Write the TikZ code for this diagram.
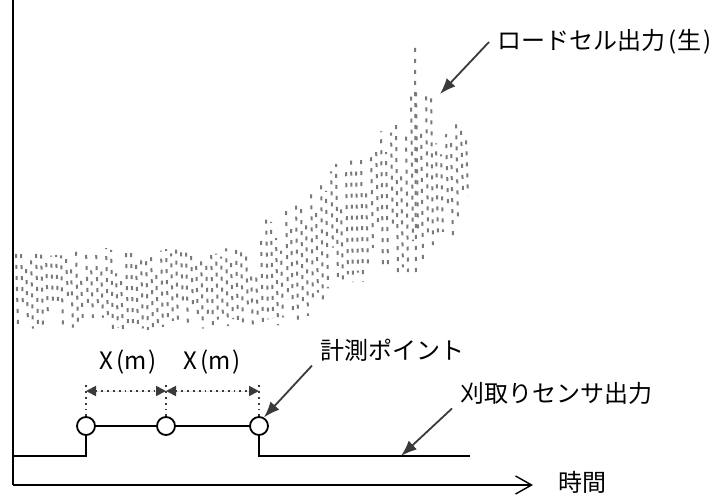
\documentclass[tikz,border=0pt]{standalone}
\usepackage{fontspec}
\newfontfamily\jpfont{Noto Sans CJK JP}
\usetikzlibrary{arrows.meta}
\definecolor{siggray}{HTML}{7A7A7A}
\definecolor{arrgray}{HTML}{3A3A3A}

\begin{document}
\begin{tikzpicture}[x=0.5pt,y=-0.5pt,
	declare function={
		sigtop(\x)=(\x<255) ? 248 : ((\x<265) ? 248-(\x-255)*3.6 : ((\x<380) ? 212-(\x-265)*0.713 : ((\x<405) ? 130-(\x-380)*0.4 : ((\x<415) ? 120-(\x-405)*7.2 : ((\x<440) ? 48+(\x-415)*2.68 : 115+(\x-440)*0.33)))));
		sigbot(\x)=(\x<255) ? 330 : ((\x<300) ? 330-(\x-255)*0.22 : ((\x<380) ? 320-(\x-300)*0.625 : ((\x<420) ? 275 : ((\x<440) ? 275-(\x-420) : 255-(\x-440)*1.5))));
	}]
  \tikzset{pt/.style = {shape=circle,draw,fill=white,line width=0.9pt,minimum size=9pt,inner sep=0pt}}
  \tikzset{lbl/.style = {font=\jpfont\fontsize{12}{14}\selectfont,inner xsep=4pt,inner ysep=2pt}}
  \tikzset{callout/.style = {-{Latex[length=8pt,width=6pt]},draw=arrgray,line width=0.9pt}}
  \tikzset{dim/.style = {{Triangle[length=5pt,width=5pt]}-{Triangle[length=5pt,width=5pt]},draw=arrgray,fill=arrgray,dotted,line width=0.9pt}}
  \tikzset{signal/.style = {draw=siggray,line width=1pt,dash pattern=on 2pt off 3.5pt}}
  \tikzset{sensor/.style = {line width=0.9pt}}

	\useasboundingbox (0,0) rectangle (722,497);

	% raw load cell output
	\pgfmathsetseed{7}
	\foreach \x in {16,21,...,470} {
		\pgfmathsetmacro\h{sigbot(\x)-sigtop(\x)}
		\pgfmathsetmacro\t{sigtop(\x)+rnd*rnd*\h*0.5}
		\pgfmathsetmacro\b{sigbot(\x)-rnd*rnd*\h*0.45}
		\draw[signal,dash phase=\x] (\x,\t) -- (\x+2,\b);
	}
	\draw[signal] (415,48) -- (416,275);

	% axes
	\coordinate (O) at (13,485);
	\coordinate (Y) at (13,0);
	\coordinate (X) at (533,485);
	\draw[line width=0.9pt] (Y) -- (O);
	\draw[line width=0.9pt,-{Straight Barb[length=8pt,width=9pt,line width=0.7pt]}] (O) -- (X);
	\node[lbl,anchor=west] (T) at (550,482) {時間};

	% sensor output
	\node[pt] (M1) at (86,426) {};
	\node[pt] (M2) at (166,426) {};
	\node[pt] (M3) at (259,426) {};
	\coordinate (S0) at (13,456);
	\coordinate (S1) at (470,456);
	\draw[sensor] (S0) -| (M1.south);
	\draw[sensor] (M3.south) |- (S1);
	\foreach \from/\to in {M1/M2, M2/M3}
		\draw[sensor] (\from) -- (\to);

	% spacing
	\coordinate (D1) at (86,383);
	\coordinate (D2) at (166,383);
	\coordinate (D3) at (259,383);
	\foreach \m/\d in {M1/D1, M2/D2, M3/D3}
		\draw[arrgray,dotted,line width=0.9pt] (\m.north) -- (\d);
	\coordinate (A1) at (86,391);
	\coordinate (A2) at (166,391);
	\coordinate (A3) at (259,391);
	\draw[dim] (A1) -- (A2);
	\draw[dim] (A2) -- (A3);
	\node[lbl] (X1) at (128,362) {X\hspace{0.15em}(m\hspace{0.08em})};
	\node[lbl] (X2) at (212,362) {X\hspace{0.15em}(m\hspace{0.08em})};

	% labels
	\node[lbl,anchor=west] (LC) at (489,42) {ロードセル出力\hspace{0.15em}(生\hspace{0.1em})};
	\coordinate (PK) at (440,94);
	\draw[callout] (LC.west) -- (PK);

	\node[lbl,anchor=west] (MP) at (312,350) {計測ポイント};
	\draw[callout] (MP.south west) -- (M3.60);

	\node[lbl,anchor=west] (CS) at (452,393) {刈取りセンサ出力};
	\coordinate (CP) at (401,456);
	\draw[callout] (CS.south west) -- (CP);
\end{tikzpicture}
\end{document}
